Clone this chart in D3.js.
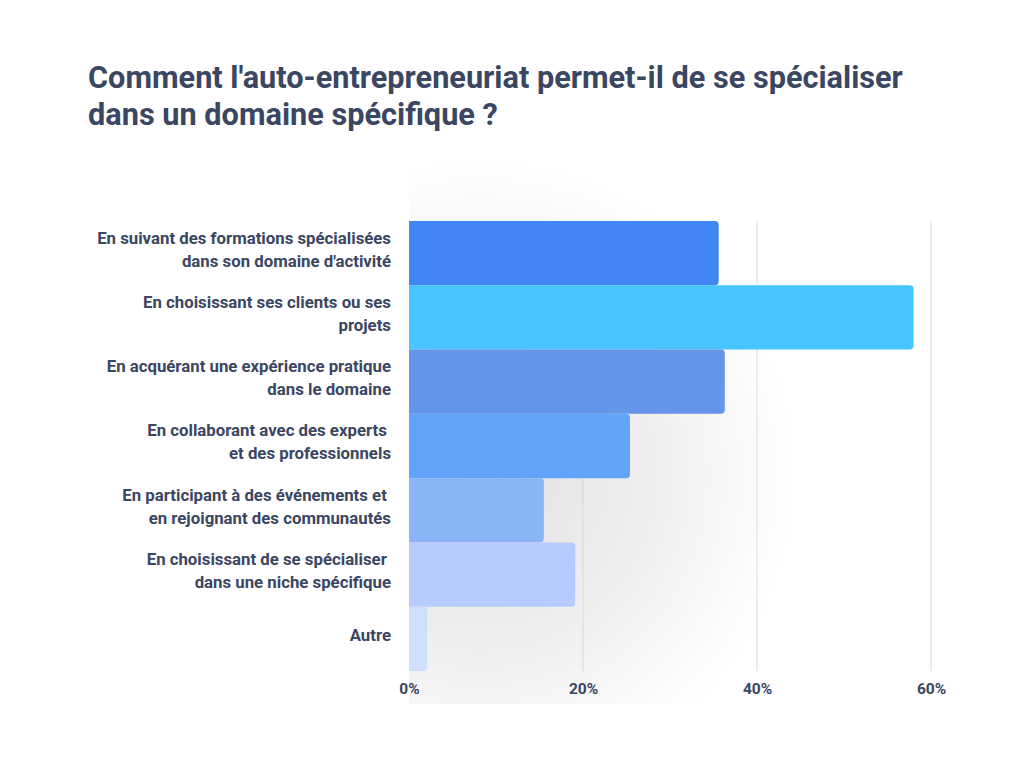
<!DOCTYPE html>
<html><head><meta charset="utf-8">
<script src="https://cdn.jsdelivr.net/npm/d3@7"></script>
<style>body{margin:0;background:#fff}svg{display:block;font-family:Roboto,"Noto Sans",sans-serif}</style>
</head><body>
<svg id="c" width="1024" height="768"></svg>
<script>
const title = ["Comment l'auto-entrepreneuriat permet-il de se spécialiser", "dans un domaine spécifique ?"];
const categories = [
  ["En suivant des formations spécialisées", "dans son domaine d'activité"],
  ["En choisissant ses clients ou ses", "projets"],
  ["En acquérant une expérience pratique", "dans le domaine"],
  ["En collaborant avec des experts ", "et des professionnels"],
  ["En participant à des événements et ", "en rejoignant des communautés"],
  ["En choisissant de se spécialiser ", "dans une niche spécifique"],
  ["Autre"]
];
const values = [35.6, 58.0, 36.3, 25.4, 15.5, 19.1, 2.1];
const colors = ["#4285F4", "#48C4FF", "#6595E8", "#61A5FA", "#8AB4F8", "#B8CBFE", "#D0DEFD"];
const ticks = [0, 20, 40, 60];

const svg = d3.select("#c");
const m = {left: 409, right: 931, top: 221, bottom: 671};
const x = d3.scaleLinear().domain([0, 60]).range([m.left, m.right]);
const y = d3.scaleBand().domain(d3.range(categories.length)).range([m.top, m.bottom]).padding(0);
const textCol = "#3a4662";

const defs = svg.append("defs");
const rg = defs.append("radialGradient").attr("id", "glow").attr("gradientUnits", "userSpaceOnUse")
  .attr("cx", 480).attr("cy", 475).attr("r", 315);
rg.append("stop").attr("offset", 0).attr("stop-color", "#000").attr("stop-opacity", 0.12);
rg.append("stop").attr("offset", 0.55).attr("stop-color", "#000").attr("stop-opacity", 0.065);
rg.append("stop").attr("offset", 1).attr("stop-color", "#000").attr("stop-opacity", 0);
defs.append("clipPath").attr("id", "clip").append("rect")
  .attr("x", m.left).attr("y", 150).attr("width", 1024 - m.left).attr("height", 704 - 150);
svg.append("rect").attr("clip-path", "url(#clip)").attr("x", 0).attr("y", 0)
  .attr("width", 1024).attr("height", 768).attr("fill", "url(#glow)");

// title
svg.append("text").attr("x", 88).attr("y", 88).attr("fill", textCol)
  .attr("font-size", 30.7).attr("font-weight", 700)
  .selectAll("tspan").data(title).join("tspan")
  .attr("x", 88).attr("dy", (d, i) => i ? 37 : 0).text(d => d);

// gridlines
svg.append("g").selectAll("line").data(ticks.filter(t => t > 0)).join("line")
  .attr("x1", d => x(d)).attr("x2", d => x(d)).attr("y1", m.top).attr("y2", m.bottom)
  .attr("stroke", "#d9d9df").attr("stroke-width", 1);

// bars (right corners rounded)
const r = 4;
svg.append("g").selectAll("path").data(values).join("path")
  .attr("fill", (d, i) => colors[i])
  .attr("d", (d, i) => {
    const x0 = x(0), x1 = x(d), y0 = y(i), h = y.bandwidth(), rr = Math.min(r, (x1 - x0));
    return `M${x0},${y0}H${x1 - rr}Q${x1},${y0} ${x1},${y0 + rr}V${y0 + h - rr}Q${x1},${y0 + h} ${x1 - rr},${y0 + h}H${x0}Z`;
  });

// category labels
const lh = 23;
svg.append("g").selectAll("text").data(categories).join("text")
  .attr("text-anchor", "end").attr("fill", textCol).attr("font-size", 16.8).attr("font-weight", 700)
  .each(function(lines, i) {
    const cy = y(i) + y.bandwidth() / 2 - 4;
    const start = cy - (lines.length - 1) * lh / 2;
    d3.select(this).selectAll("tspan").data(lines).join("tspan")
      .attr("x", 391).attr("y", (d, j) => start + j * lh).attr("dy", "0.35em").text(d => d);
  });

// x axis labels
const ax = svg.append("g").attr("transform", `translate(0,${m.bottom})`)
  .call(d3.axisBottom(x).tickValues(ticks).tickFormat(d => d + "%").tickSize(0).tickPadding(12));
ax.select(".domain").remove();
ax.selectAll("text").attr("fill", textCol).attr("font-size", 15.5).attr("font-weight", 700)
  .attr("font-family", "Roboto, sans-serif");
</script>
</body></html>
